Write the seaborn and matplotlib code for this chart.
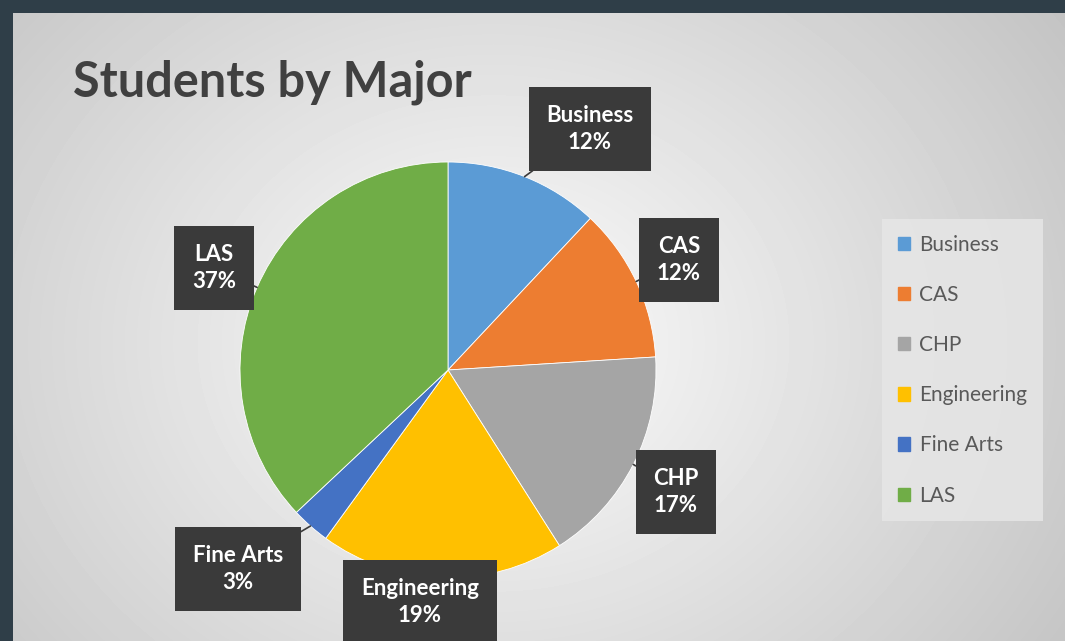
import matplotlib
matplotlib.use("Agg")
import matplotlib.pyplot as plt
import matplotlib.patches as mpatches
import numpy as np
import seaborn as sns

# data
majors = ["Business", "CAS", "CHP", "Engineering", "Fine Arts", "LAS"]
shares = [12, 12, 17, 19, 3, 37]
colors = ["#5B9BD5", "#ED7D31", "#A5A5A5", "#FFC000", "#4472C4", "#70AD47"]
title = "Students by Major"

# callout box centres in pixel coords (x, y from top)
label_pos = [(590, 129), (679, 260), (676, 492), (420, 602), (238, 569), (214, 268)]

sns.set_theme(style="white")
plt.rcParams["font.family"] = ["Lato", "DejaVu Sans"]

W, H = 1065, 641
fig = plt.figure(figsize=(W / 100, H / 100), dpi=100, facecolor="#2F3E48")

# gradient panel
pad = 13
bg = fig.add_axes([pad / W, 0, 1 - pad / W, 1 - pad / H])
yy, xx = np.mgrid[0:H - pad, 0:W - pad]
r = np.sqrt(((xx - 480) / 620.0) ** 2 + ((yy - 330) / 520.0) ** 2)
shade = np.clip(0.99 - 0.2 * r, 0, 1)
bg.imshow(shade, cmap="gray", vmin=0, vmax=1, aspect="auto", interpolation="bilinear")
bg.set_axis_off()

# pie axes: centre (448, 370), radius 208 px
cx, cy, rad = 448, 370, 208
ax = fig.add_axes([(cx - rad) / W, (H - cy - rad) / H, 2 * rad / W, 2 * rad / H])
ax.pie(
  shares,
  colors=sns.color_palette(colors),
  startangle=90,
  counterclock=False,
  radius=1,
  wedgeprops=dict(edgecolor="white", linewidth=0.6),
)
ax.set_xlim(-1, 1)
ax.set_ylim(-1, 1)
ax.set_axis_off()

# callouts
total = sum(shares)
start = 90.0
for name, val, (px, py) in zip(majors, shares, label_pos):
  mid = np.deg2rad(start - 360.0 * val / total / 2)
  start -= 360.0 * val / total
  tx, ty = (px - cx) / rad, (cy - py) / rad
  ax.annotate(
    f"{name}\n{round(100 * val / total)}%",
    xy=(np.cos(mid) * 1.0, np.sin(mid) * 1.0),
    xytext=(tx, ty),
    ha="center",
    va="center",
    color="white",
    fontsize=16,
    fontweight="bold",
    linespacing=1.35,
    annotation_clip=False,
    bbox=dict(boxstyle="square,pad=0.8", fc="#3A3A3A", ec="none"),
    arrowprops=dict(arrowstyle="-", color="#3A3A3A", lw=1.2, shrinkA=0, shrinkB=0),
  )

fig.text(73 / W, 1 - 82 / H, title, fontsize=35, fontweight="bold",
         color="#404040", ha="left", va="center")

handles = [mpatches.Patch(color=c, label=m) for m, c in zip(majors, colors)]
leg = fig.legend(
  handles=handles,
  loc="upper left",
  bbox_to_anchor=(882 / W, 1 - 219 / H),
  frameon=True,
  fontsize=15,
  labelspacing=1.45,
  handlelength=0.6,
  handleheight=0.6,
  handletextpad=0.45,
  borderpad=0.75,
  borderaxespad=0,
  fancybox=False,
  labelcolor="#595959",
)
leg.get_frame().set_facecolor("#E6E6E6")
leg.get_frame().set_edgecolor("none")
leg.get_frame().set_alpha(0.85)

fig.savefig("out.png", dpi=100, facecolor=fig.get_facecolor())
